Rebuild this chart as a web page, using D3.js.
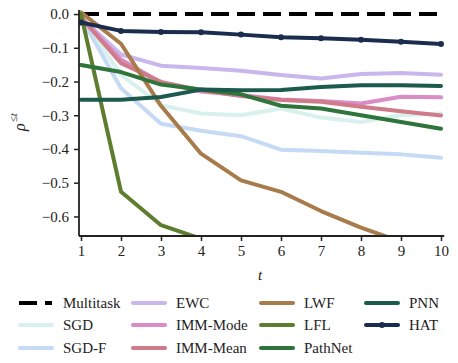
<!DOCTYPE html>
<html>
<head>
<meta charset="utf-8">
<script src="https://d3js.org/d3.v7.min.js"></script>
<style>
body { margin: 0; background: white; }
</style>
</head>
<body>
<svg width="458" height="363"></svg>
<script>
// tasks 1..10
var tasks = [1, 2, 3, 4, 5, 6, 7, 8, 9, 10];
var yTicks = [0.0, -0.1, -0.2, -0.3, -0.4, -0.5, -0.6];

var multitask = [0, 0, 0, 0, 0, 0, 0, 0, 0, 0];
var sgd      = [-0.01, -0.18, -0.27, -0.295, -0.30, -0.28, -0.307, -0.32, -0.30, -0.295];
var sgdF     = [-0.01, -0.22, -0.325, -0.346, -0.362, -0.402, -0.406, -0.411, -0.416, -0.426];
var ewc      = [-0.01, -0.12, -0.153, -0.16, -0.168, -0.181, -0.191, -0.178, -0.175, -0.18];
var immMode  = [-0.01, -0.135, -0.203, -0.23, -0.24, -0.253, -0.258, -0.265, -0.245, -0.247];
var immMean  = [-0.01, -0.146, -0.201, -0.226, -0.243, -0.255, -0.26, -0.275, -0.288, -0.301];
var lwf      = [0.005, -0.088, -0.272, -0.414, -0.493, -0.527, -0.584, -0.633, -0.675, -0.72];
var lfl      = [0.0, -0.527, -0.626, -0.666, -0.70, -0.73, -0.76, -0.79, -0.82, -0.85];
var pathnet  = [-0.151, -0.172, -0.209, -0.224, -0.238, -0.272, -0.28, -0.30, -0.32, -0.34];
var pnn      = [-0.254, -0.254, -0.246, -0.224, -0.226, -0.225, -0.216, -0.211, -0.211, -0.213];
var hat      = [-0.025, -0.05, -0.053, -0.054, -0.061, -0.069, -0.072, -0.076, -0.082, -0.089];

var series = [
  {name: "Multitask", values: multitask, color: "#000000", dash: "18,8"},
  {name: "SGD", values: sgd, color: "#d9f1ec"},
  {name: "SGD-F", values: sgdF, color: "#c5daf5"},
  {name: "EWC", values: ewc, color: "#c9b6ec"},
  {name: "IMM-Mode", values: immMode, color: "#d98cc6"},
  {name: "IMM-Mean", values: immMean, color: "#cf7b89"},
  {name: "LWF", values: lwf, color: "#a87b4b"},
  {name: "LFL", values: lfl, color: "#5e7d2e"},
  {name: "PathNet", values: pathnet, color: "#2e743b"},
  {name: "PNN", values: pnn, color: "#1b5a4c"},
  {name: "HAT", values: hat, color: "#1b2d4e", marker: true}
];

var FONT = "'Times New Roman', Times, Tinos, 'Liberation Serif', 'DejaVu Serif', 'Noto Serif', serif";

var svg = d3.select("svg").style("font-family", FONT);
var plotL = 79, plotR = 444.2, plotT = 10, plotB = 236;

var x = d3.scaleLinear().domain([0.95, 10.08]).range([plotL, plotR]);
var y = d3.scaleLinear().domain([-0.658, 0.012]).range([plotB, plotT]);

svg.append("clipPath").attr("id", "clip")
  .append("rect").attr("x", plotL).attr("y", plotT)
  .attr("width", plotR - plotL).attr("height", plotB - plotT);

var line = d3.line()
  .x(function(d, i) { return x(tasks[i]); })
  .y(function(d) { return y(d); });

var plot = svg.append("g").attr("clip-path", "url(#clip)");

series.forEach(function(s) {
  plot.append("path")
    .attr("d", line(s.values))
    .attr("fill", "none")
    .attr("stroke", s.color)
    .attr("stroke-width", 4)
    .attr("stroke-linejoin", "round")
    .attr("stroke-linecap", s.dash ? "butt" : "round")
    .attr("stroke-dasharray", s.dash || null);
  if (s.marker) {
    plot.selectAll(null).data(s.values).enter().append("circle")
      .attr("cx", function(d, i) { return x(tasks[i]); })
      .attr("cy", function(d) { return y(d); })
      .attr("r", 3)
      .attr("fill", s.color);
  }
});

// axes
var yAxis = svg.append("g")
  .attr("transform", "translate(" + plotL + ",0)")
  .call(d3.axisLeft(y).tickValues(yTicks).tickFormat(d3.format(".1f")).tickSize(5).tickPadding(5));
var xAxis = svg.append("g")
  .attr("transform", "translate(0," + plotB + ")")
  .call(d3.axisBottom(x).tickValues(tasks).tickFormat(d3.format("d")).tickSize(5).tickPadding(4));

[yAxis, xAxis].forEach(function(a) {
  a.attr("font-family", null).attr("font-size", null);
  a.select(".domain").attr("stroke", "#222").attr("stroke-width", 1.8);
  a.selectAll(".tick line").attr("stroke", "#222").attr("stroke-width", 1.5);
  a.selectAll("text").style("font-family", FONT).attr("font-size", 15).attr("fill", "#222");
});
yAxis.select(".domain").attr("d", "M0," + plotT + "V" + plotB);
xAxis.select(".domain").attr("d", "M" + plotL + ",0H" + plotR);

svg.append("text")
  .attr("x", 260).attr("y", 280)
  .attr("text-anchor", "middle")
  .style("font-family", FONT)
  .attr("font-size", 15).attr("font-style", "italic")
  .attr("fill", "#222")
  .text("t");

var yl = svg.append("text")
  .attr("transform", "translate(25,122) rotate(-90)")
  .attr("text-anchor", "middle")
  .style("font-family", FONT)
  .attr("font-size", 16).attr("fill", "#222");
yl.append("tspan").attr("font-style", "italic").text("ρ");
yl.append("tspan").attr("font-size", 11).attr("dy", -8).attr("dx", 1).text("≤");
yl.append("tspan").attr("font-size", 11).attr("font-style", "italic").text("t");

// legend, filled column by column
var colX = [19, 132, 260, 365];
var rowY = [303, 325, 348];
var leg = svg.append("g");
series.forEach(function(s, i) {
  var col = Math.floor(i / 3), row = i % 3;
  if (i == 10) { col = 3; row = 1; }
  var cx = colX[col], cy = rowY[row];
  var g = leg.append("g").attr("transform", "translate(" + cx + "," + cy + ")");
  if (s.dash) {
    g.append("line").attr("x1", 0).attr("x2", 18).attr("y1", 0).attr("y2", 0)
      .attr("stroke", s.color).attr("stroke-width", 4);
    g.append("line").attr("x1", 26).attr("x2", 33).attr("y1", 0).attr("y2", 0)
      .attr("stroke", s.color).attr("stroke-width", 4);
  } else {
    g.append("line").attr("x1", 1).attr("x2", 33).attr("y1", 0).attr("y2", 0)
      .attr("stroke", s.color).attr("stroke-width", 4).attr("stroke-linecap", "round");
  }
  if (s.marker) {
    g.append("circle").attr("cx", 17).attr("cy", 0).attr("r", 3).attr("fill", s.color);
  }
  g.append("text").attr("x", 44).attr("y", 5)
    .style("font-family", FONT)
    .attr("font-size", 15).attr("fill", "#222")
    .text(s.name);
});
</script>
</body>
</html>
